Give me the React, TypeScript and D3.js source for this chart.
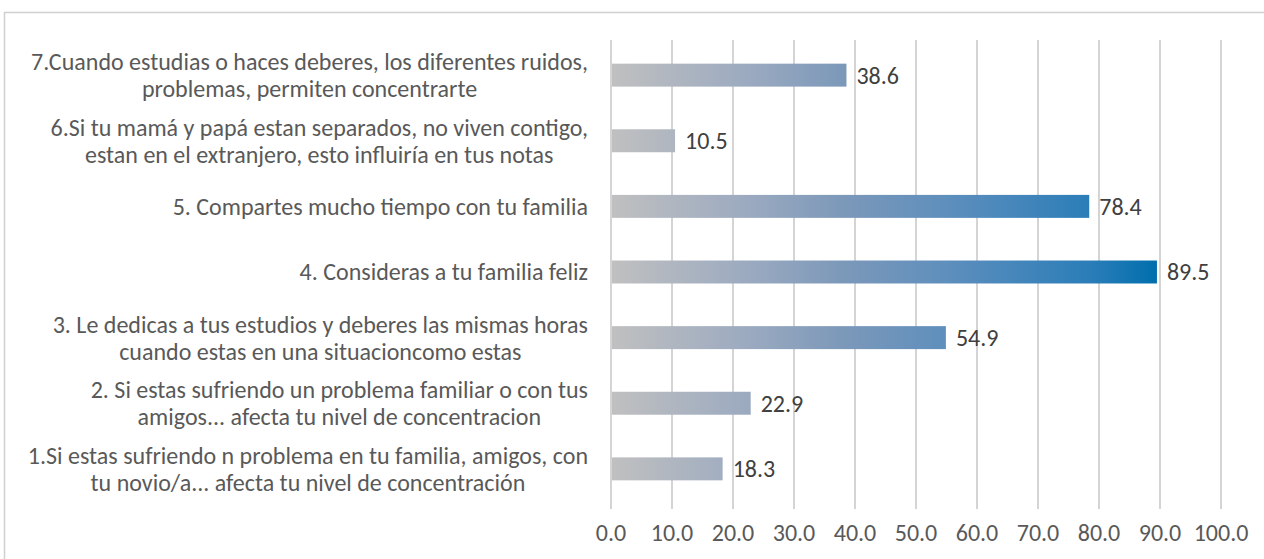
import React, { useEffect, useRef } from "react";
import * as d3 from "d3";

const categories = ["1", "2", "3", "4", "5", "6", "7"];

const labelLines = [
  ["1.Si estas sufriendo n problema en tu familia, amigos, con", "tu novio/a... afecta tu nivel de concentración"],
  ["2. Si estas sufriendo un problema familiar o con tus", "amigos... afecta tu nivel de concentracion"],
  ["3. Le dedicas a tus estudios y deberes las mismas horas", "cuando estas en una situacioncomo estas"],
  ["4. Consideras a tu familia feliz"],
  ["5. Compartes mucho tiempo con tu familia"],
  ["6.Si tu mamá y papá estan separados, no viven contigo,", "estan en el extranjero, esto influiría en tus notas"],
  ["7.Cuando estudias o haces deberes, los diferentes ruidos,", "problemas, permiten concentrarte"],
];

const values = [18.3, 22.9, 54.9, 89.5, 78.4, 10.5, 38.6];

const tickValues = [0, 10, 20, 30, 40, 50, 60, 70, 80, 90, 100];

const W = 1264;
const H = 559;
const FONT = "Carlito, Calibri, 'Open Sans', sans-serif";
const FS = 24;

const App = () => {
  const ref = useRef<SVGSVGElement>(null);

  useEffect(() => {
    const svg = d3.select(ref.current);
    svg.selectAll("*").remove();

    const x = d3.scaleLinear().domain([0, 100]).range([611, 1221]);
    const y = d3
      .scaleBand()
      .domain([...categories].reverse())
      .range([42, 502])
      .paddingInner(0.65)
      .paddingOuter(0.33);

    // chart border
    svg.append("rect")
      .attr("x", 4.5)
      .attr("y", 12.5)
      .attr("width", W + 10)
      .attr("height", H + 10)
      .attr("fill", "#fff")
      .attr("stroke", "#d0d0d0")
      .attr("stroke-width", 1.5);

    const grad = svg.append("defs").append("linearGradient")
      .attr("id", "barGrad")
      .attr("gradientUnits", "userSpaceOnUse")
      .attr("x1", x(0))
      .attr("x2", x(89.5))
      .attr("y1", 0)
      .attr("y2", 0);
    grad.append("stop").attr("offset", "0%").attr("stop-color", "#c0c0c0");
    grad.append("stop").attr("offset", "26%").attr("stop-color", "#9aa9c0");
    grad.append("stop").attr("offset", "43%").attr("stop-color", "#7b98b9");
    grad.append("stop").attr("offset", "61%").attr("stop-color", "#5f8fbd");
    grad.append("stop").attr("offset", "88%").attr("stop-color", "#2a7db8");
    grad.append("stop").attr("offset", "100%").attr("stop-color", "#006fad");

    // gridlines
    svg.append("g")
      .selectAll("line")
      .data(tickValues)
      .enter().append("line")
      .attr("x1", (d) => x(d))
      .attr("x2", (d) => x(d))
      .attr("y1", 40)
      .attr("y2", 509)
      .attr("stroke", "#d4d4d4")
      .attr("stroke-width", 2);

    // tick labels
    svg.append("g")
      .selectAll("text")
      .data(tickValues)
      .enter().append("text")
      .attr("x", (d) => x(d))
      .attr("y", 541)
      .attr("text-anchor", "middle")
      .attr("font-family", FONT)
      .attr("font-size", FS)
      .attr("fill", "#595959")
      .text((d) => d.toFixed(1));

    // bars
    svg.append("g")
      .selectAll("rect")
      .data(values)
      .enter().append("rect")
      .attr("x", x(0) + 1)
      .attr("y", (d, i) => y(categories[i]) as number)
      .attr("width", (d) => x(d) - x(0) - 1)
      .attr("height", y.bandwidth())
      .attr("fill", "url(#barGrad)");

    // value labels
    svg.append("g")
      .selectAll("text")
      .data(values)
      .enter().append("text")
      .attr("x", (d) => x(d) + 10)
      .attr("y", (d, i) => (y(categories[i]) as number) + y.bandwidth() / 2)
      .attr("dy", "0.35em")
      .attr("font-family", FONT)
      .attr("font-size", FS)
      .attr("fill", "#404040")
      .text((d) => d.toFixed(1));

    // category labels, wrapped lines centred in a right-aligned block
    const right = x(0) - 23;
    const lineH = 27;
    categories.forEach((c, i) => {
      const lines = labelLines[i];
      const cy = (y(c) as number) + y.bandwidth() / 2;
      const g = svg.append("g");
      const texts = g.selectAll("text")
        .data(lines)
        .enter().append("text")
        .attr("y", (d, j) => cy + (j - (lines.length - 1) / 2) * lineH)
        .attr("dy", "0.35em")
        .attr("text-anchor", "middle")
        .attr("font-family", FONT)
        .attr("font-size", FS)
        .attr("fill", "#595959")
        .text((d) => d);
      let maxW = 0;
      texts.each(function () {
        maxW = Math.max(maxW, (this as SVGTextElement).getComputedTextLength());
      });
      texts.attr("x", right - maxW / 2);
    });
  }, []);

  return (
    <svg
      ref={ref}
      width={W}
      height={H}
      style={{ position: "absolute", left: 0, top: 0 }}
    />
  );
};

export default App;
